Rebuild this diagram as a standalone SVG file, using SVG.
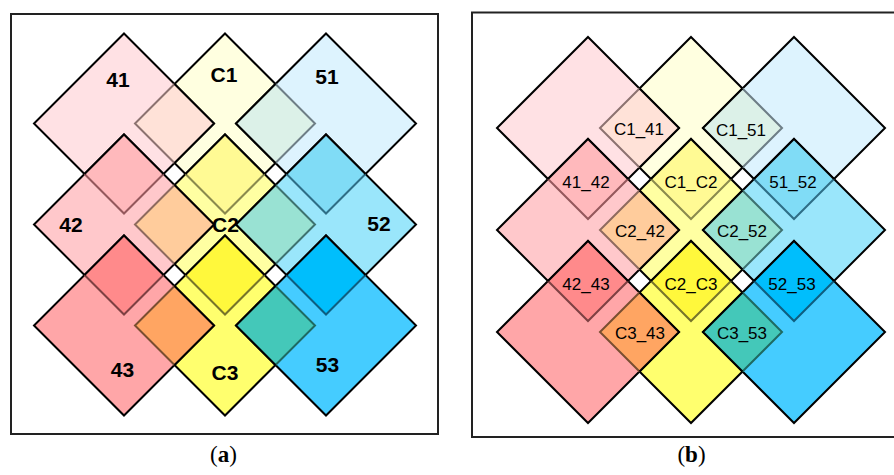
<svg xmlns="http://www.w3.org/2000/svg" width="894" height="475" viewBox="0 0 894 475">
<style>
.frame{fill:none;stroke:#222;stroke-width:2}
.d{stroke:#000;stroke-width:2;stroke-linejoin:miter}
.o{stroke:none}
.vis{fill:none;stroke:#000;stroke-width:2;stroke-linejoin:miter}
.fad{fill:none;stroke-width:2;stroke-linejoin:miter}
.lbA{font-family:"Liberation Sans",Arial,sans-serif;font-weight:bold;font-size:21px;text-anchor:middle;fill:#000}
.lbB{font-family:"Liberation Sans",Arial,sans-serif;font-size:17px;text-anchor:middle;fill:#000}
.cap{font-family:"Liberation Serif","Times New Roman",serif;font-size:23px;text-anchor:middle;fill:#000}
.f41{fill:#FFE1E4}.f42{fill:#FFC8CB}.f43{fill:#FFA6A8}
.fC1{fill:#FFFFE0}.fC2{fill:#FFFFA2}.fC3{fill:#FFFF6E}
.f51{fill:#DDF3FE}.f52{fill:#9AE6FB}.f53{fill:#45CCFF}
.x41C1{fill:#FFE2D8}.xC151{fill:#DCF1E8}.x4142{fill:#FFB9BC}.xC1C2{fill:#FFFA94}.x5152{fill:#80DCF6}
.x42C2{fill:#FFCC9C}.xC252{fill:#99E2D3}.x4243{fill:#FF8A8B}.xC2C3{fill:#FFF83C}.x5253{fill:#00BEFC}
.x43C3{fill:#FFA562}.xC353{fill:#44C8B9}
.s41C1{stroke:#8C7270}.sC151{stroke:#6E7E86}.s4142{stroke:#94585C}.sC1C2{stroke:#8A8A4E}.s5152{stroke:#2E6E86}
.s42C2{stroke:#8E6A5E}.sC252{stroke:#3E7270}.s4243{stroke:#7E4042}.sC2C3{stroke:#76742A}.s5253{stroke:#0E5E80}
.s43C3{stroke:#7A4E30}.sC353{stroke:#1E6A62}
</style>
<rect x="0" y="0" width="894" height="475" fill="#fff"/>

<!-- ============ Panel (a) ============ -->
<g id="panel-a">
<rect class="frame" x="11" y="14" width="427" height="420"/>
<g id="a-C1"><polygon class="d fC1" points="225,33.5 315,123.5 225,213.5 135,123.5"/><text class="lbA" x="224" y="82">C1</text></g>
<g id="a-C2"><polygon class="d fC2" points="225,134.5 315,224.5 225,314.5 135,224.5"/></g>
<g id="a-C3"><polygon class="d fC3" points="225,235.5 315,325.5 225,415.5 135,325.5"/><text class="lbA" x="225" y="380">C3</text></g>
<g id="a-41"><polygon class="d f41" points="124,33.5 214,123.5 124,213.5 34,123.5"/><text class="lbA" x="118" y="87">41</text></g>
<g id="a-42"><polygon class="d f42" points="124,134.5 214,224.5 124,314.5 34,224.5"/><text class="lbA" x="71" y="232">42</text></g>
<g id="a-43"><polygon class="d f43" points="124,235.5 214,325.5 124,415.5 34,325.5"/><text class="lbA" x="122.5" y="377">43</text></g>
<g id="a-51"><polygon class="d f51" points="326,33.5 416,123.5 326,213.5 236,123.5"/><text class="lbA" x="327" y="84">51</text></g>
<g id="a-52"><polygon class="d f52" points="326,134.5 416,224.5 326,314.5 236,224.5"/><text class="lbA" x="379" y="231">52</text></g>
<g id="a-53"><polygon class="d f53" points="326,235.5 416,325.5 326,415.5 236,325.5"/><text class="lbA" x="327.5" y="372">53</text></g>

<g id="a-overlaps">
<g id="a-C1_41"><polygon class="o x41C1" points="174.5,84 214,123.5 174.5,163 135,123.5"/><polyline class="fad s41C1" points="174.5,84 135,123.5 174.5,163"/><polyline class="vis" points="174.5,84 214,123.5 174.5,163"/></g>
<g id="a-C1_51"><polygon class="o xC151" points="275.5,84 315,123.5 275.5,163 236,123.5"/><polyline class="fad sC151" points="275.5,84 315,123.5 275.5,163"/><polyline class="vis" points="275.5,84 236,123.5 275.5,163"/></g>
<g id="a-C2_42"><polygon class="o x42C2" points="174.5,185 214,224.5 174.5,264 135,224.5"/><polyline class="fad s42C2" points="174.5,185 135,224.5 174.5,264"/><polyline class="vis" points="174.5,185 214,224.5 174.5,264"/></g>
<g id="a-C2_52"><polygon class="o xC252" points="275.5,185 315,224.5 275.5,264 236,224.5"/><polyline class="fad sC252" points="275.5,185 315,224.5 275.5,264"/><polyline class="vis" points="275.5,185 236,224.5 275.5,264"/></g>
<g id="a-C3_43"><polygon class="o x43C3" points="174.5,286 214,325.5 174.5,365 135,325.5"/><polyline class="fad s43C3" points="174.5,286 135,325.5 174.5,365"/><polyline class="vis" points="174.5,286 214,325.5 174.5,365"/></g>
<g id="a-C3_53"><polygon class="o xC353" points="275.5,286 315,325.5 275.5,365 236,325.5"/><polyline class="fad sC353" points="275.5,286 315,325.5 275.5,365"/><polyline class="vis" points="275.5,286 236,325.5 275.5,365"/></g>
<g id="a-41_42"><polygon class="o x4142" points="124,134.5 163.5,174 124,213.5 84.5,174"/><polyline class="fad s4142" points="84.5,174 124,213.5 163.5,174"/><polyline class="vis" points="84.5,174 124,134.5 163.5,174"/></g>
<g id="a-42_43"><polygon class="o x4243" points="124,235.5 163.5,275 124,314.5 84.5,275"/><polyline class="fad s4243" points="84.5,275 124,314.5 163.5,275"/><polyline class="vis" points="84.5,275 124,235.5 163.5,275"/></g>
<g id="a-C1_C2"><polygon class="o xC1C2" points="225,134.5 264.5,174 225,213.5 185.5,174"/><polyline class="fad sC1C2" points="185.5,174 225,213.5 264.5,174"/><polyline class="vis" points="185.5,174 225,134.5 264.5,174"/></g>
<g id="a-C2_C3"><polygon class="o xC2C3" points="225,235.5 264.5,275 225,314.5 185.5,275"/><polyline class="fad sC2C3" points="185.5,275 225,314.5 264.5,275"/><polyline class="vis" points="185.5,275 225,235.5 264.5,275"/></g>
<g id="a-51_52"><polygon class="o x5152" points="326,134.5 365.5,174 326,213.5 286.5,174"/><polyline class="fad s5152" points="286.5,174 326,213.5 365.5,174"/><polyline class="vis" points="286.5,174 326,134.5 365.5,174"/></g>
<g id="a-52_53"><polygon class="o x5253" points="326,235.5 365.5,275 326,314.5 286.5,275"/><polyline class="fad s5253" points="286.5,275 326,314.5 365.5,275"/><polyline class="vis" points="286.5,275 326,235.5 365.5,275"/></g>
</g>
<text id="a-C2-label" class="lbA" x="225.5" y="231.5">C2</text>
<text class="cap" x="223.5" y="462">(<tspan font-weight="bold">a</tspan>)</text>
</g>

<!-- ============ Panel (b) ============ -->
<g id="panel-b">
<rect class="frame" x="472" y="12.5" width="432" height="424.5"/>
<g id="b-C1"><polygon class="d fC1" points="691,37 782,128 691,219 600,128"/></g>
<g id="b-C2"><polygon class="d fC2" points="691,139 782,230 691,321 600,230"/></g>
<g id="b-C3"><polygon class="d fC3" points="691,241 782,332 691,423 600,332"/></g>
<g id="b-41"><polygon class="d f41" points="588,37 679,128 588,219 497,128"/></g>
<g id="b-42"><polygon class="d f42" points="588,139 679,230 588,321 497,230"/></g>
<g id="b-43"><polygon class="d f43" points="588,241 679,332 588,423 497,332"/></g>
<g id="b-51"><polygon class="d f51" points="794,37 885,128 794,219 703,128"/></g>
<g id="b-52"><polygon class="d f52" points="794,139 885,230 794,321 703,230"/></g>
<g id="b-53"><polygon class="d f53" points="794,241 885,332 794,423 703,332"/></g>

<g id="b-overlaps">
<g id="b-C1_41"><polygon class="o x41C1" points="639.5,88.5 679,128 639.5,167.5 600,128"/><polyline class="fad s41C1" points="639.5,88.5 600,128 639.5,167.5"/><polyline class="vis" points="639.5,88.5 679,128 639.5,167.5"/><text class="lbB" x="639" y="135">C1_41</text></g>
<g id="b-C1_51"><polygon class="o xC151" points="742.5,88.5 782,128 742.5,167.5 703,128"/><polyline class="fad sC151" points="742.5,88.5 782,128 742.5,167.5"/><polyline class="vis" points="742.5,88.5 703,128 742.5,167.5"/><text class="lbB" x="741" y="135.5">C1_51</text></g>
<g id="b-C2_42"><polygon class="o x42C2" points="639.5,190.5 679,230 639.5,269.5 600,230"/><polyline class="fad s42C2" points="639.5,190.5 600,230 639.5,269.5"/><polyline class="vis" points="639.5,190.5 679,230 639.5,269.5"/><text class="lbB" x="640" y="237">C2_42</text></g>
<g id="b-C2_52"><polygon class="o xC252" points="742.5,190.5 782,230 742.5,269.5 703,230"/><polyline class="fad sC252" points="742.5,190.5 782,230 742.5,269.5"/><polyline class="vis" points="742.5,190.5 703,230 742.5,269.5"/><text class="lbB" x="742" y="237">C2_52</text></g>
<g id="b-C3_43"><polygon class="o x43C3" points="639.5,292.5 679,332 639.5,371.5 600,332"/><polyline class="fad s43C3" points="639.5,292.5 600,332 639.5,371.5"/><polyline class="vis" points="639.5,292.5 679,332 639.5,371.5"/><text class="lbB" x="640" y="339">C3_43</text></g>
<g id="b-C3_53"><polygon class="o xC353" points="742.5,292.5 782,332 742.5,371.5 703,332"/><polyline class="fad sC353" points="742.5,292.5 782,332 742.5,371.5"/><polyline class="vis" points="742.5,292.5 703,332 742.5,371.5"/><text class="lbB" x="742" y="339">C3_53</text></g>
<g id="b-41_42"><polygon class="o x4142" points="588,139 628,179 588,219 548,179"/><polyline class="fad s4142" points="548,179 588,219 628,179"/><polyline class="vis" points="548,179 588,139 628,179"/><text class="lbB" x="586" y="188">41_42</text></g>
<g id="b-42_43"><polygon class="o x4243" points="588,241 628,281 588,321 548,281"/><polyline class="fad s4243" points="548,281 588,321 628,281"/><polyline class="vis" points="548,281 588,241 628,281"/><text class="lbB" x="586" y="290">42_43</text></g>
<g id="b-C1_C2"><polygon class="o xC1C2" points="691,139 731,179 691,219 651,179"/><polyline class="fad sC1C2" points="651,179 691,219 731,179"/><polyline class="vis" points="651,179 691,139 731,179"/><text class="lbB" x="691" y="188">C1_C2</text></g>
<g id="b-C2_C3"><polygon class="o xC2C3" points="691,241 731,281 691,321 651,281"/><polyline class="fad sC2C3" points="651,281 691,321 731,281"/><polyline class="vis" points="651,281 691,241 731,281"/><text class="lbB" x="691" y="290">C2_C3</text></g>
<g id="b-51_52"><polygon class="o x5152" points="794,139 834,179 794,219 754,179"/><polyline class="fad s5152" points="754,179 794,219 834,179"/><polyline class="vis" points="754,179 794,139 834,179"/><text class="lbB" x="793" y="188">51_52</text></g>
<g id="b-52_53"><polygon class="o x5253" points="794,241 834,281 794,321 754,281"/><polyline class="fad s5253" points="754,281 794,321 834,281"/><polyline class="vis" points="754,281 794,241 834,281"/><text class="lbB" x="792" y="290">52_53</text></g>
</g>
<text class="cap" x="691.5" y="462">(<tspan font-weight="bold">b</tspan>)</text>
</g>
</svg>
